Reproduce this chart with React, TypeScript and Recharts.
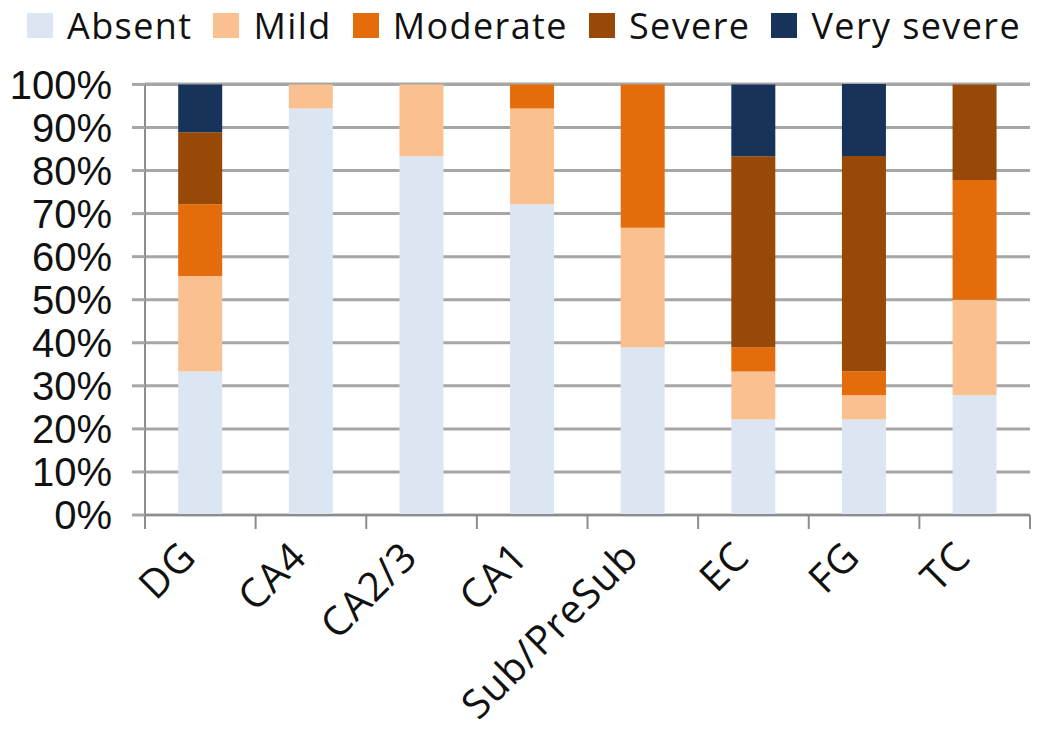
import { BarChart, Bar, XAxis, YAxis, CartesianGrid } from "recharts";

const regions = ["DG", "CA4", "CA2/3", "CA1", "Sub/PreSub", "EC", "FG", "TC"];
const absent = [33.3, 94.4, 83.3, 72.2, 38.9, 22.2, 22.2, 27.8];
const mild = [22.2, 5.6, 16.7, 22.2, 27.8, 11.1, 5.6, 22.2];
const moderate = [16.7, 0, 0, 5.6, 33.3, 5.6, 5.6, 27.8];
const severe = [16.7, 0, 0, 0, 0, 44.4, 50, 22.2];
const verySevere = [11.1, 0, 0, 0, 0, 16.7, 16.7, 0];
const yTicks = [0, 10, 20, 30, 40, 50, 60, 70, 80, 90, 100];

const series = [
  { key: "absent", name: "Absent", color: "#dce6f2", values: absent },
  { key: "mild", name: "Mild", color: "#fac090", values: mild },
  { key: "moderate", name: "Moderate", color: "#e46c0a", values: moderate },
  { key: "severe", name: "Severe", color: "#984807", values: severe },
  { key: "verySevere", name: "Very severe", color: "#17335a", values: verySevere },
];

const data = regions.map((region, i) => {
  const row: Record<string, string | number> = { region };
  series.forEach((s) => {
    row[s.key] = s.values[i];
  });
  return row;
});

const W = 1050;
const H = 749;
const margin = { top: 84, right: 20, left: 0, bottom: 0 };
const yAxisWidth = 145;
const xAxisHeight = 234;
const halfBand = (W - margin.right - margin.left - yAxisWidth) / regions.length / 2;

const XTick = (props: any) => {
  const { x, y, payload, index } = props;
  const isLast = index === regions.length - 1;
  const ax = x - 2;
  const ay = y + 36;
  return (
    <g>
      <line x1={x - halfBand} x2={x - halfBand} y1={y - 8} y2={y + 6} stroke="#8c8c8c" strokeWidth={2} />
      {isLast && (
        <line x1={x + halfBand} x2={x + halfBand} y1={y - 8} y2={y + 6} stroke="#8c8c8c" strokeWidth={2} />
      )}
      <text
        x={ax}
        y={ay}
        transform={`rotate(-45 ${ax} ${ay})`}
        textAnchor="end"
        fontSize={40}
        letterSpacing={1}
        fontFamily="'Open Sans', sans-serif"
        fill="#111"
      >
        {payload.value}
      </text>
    </g>
  );
};

const LegendBox = () => (
  <div
    style={{
      position: "absolute",
      left: 27,
      top: 0,
      height: 50,
      display: "flex",
      alignItems: "center",
      fontFamily: "'Open Sans', sans-serif",
      fontSize: 36,
      letterSpacing: 1.4,
      color: "#111",
    }}
  >
    {series.map((s) => (
      <div key={s.key} style={{ display: "flex", alignItems: "center", marginRight: 21 }}>
        <span style={{ display: "inline-block", width: 26, height: 25, background: s.color, marginRight: 14 }} />
        <span>{s.name}</span>
      </div>
    ))}
  </div>
);

export default function App() {
  return (
    <div style={{ position: "absolute", left: 0, top: 0, width: W, height: H, background: "#fff" }}>
      <LegendBox />
      <BarChart width={W} height={H} data={data} margin={margin} barCategoryGap="30%">
        <CartesianGrid vertical={false} stroke="#a6a6a6" strokeWidth={3} />
        <XAxis
          dataKey="region"
          height={xAxisHeight}
          interval={0}
          tickLine={false}
          axisLine={{ stroke: "#8c8c8c", strokeWidth: 2 }}
          tick={<XTick />}
        />
        <YAxis
          width={yAxisWidth}
          domain={[0, 100]}
          ticks={yTicks}
          interval={0}
          tickFormatter={(v: number) => `${v}%`}
          tickSize={13}
          tickMargin={20}
          tickLine={{ stroke: "#a6a6a6", strokeWidth: 3 }}
          axisLine={{ stroke: "#8c8c8c", strokeWidth: 2 }}
          tick={{ fontSize: 40, fill: "#111", fontFamily: "'Liberation Sans', Arial, sans-serif" }}
        />
        {series.map((s) => (
          <Bar key={s.key} dataKey={s.key} name={s.name} stackId="a" fill={s.color} isAnimationActive={false} />
        ))}
      </BarChart>
    </div>
  );
}
